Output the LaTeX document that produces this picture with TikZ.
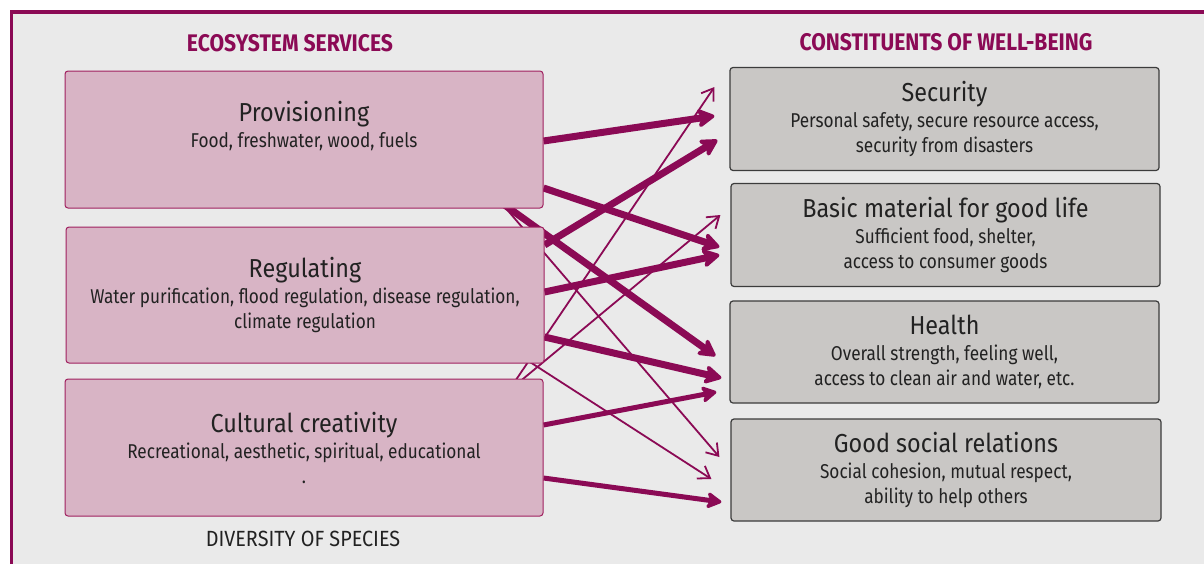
\documentclass[tikz,border=0pt]{standalone}
\usepackage{fontspec}
\setmainfont{Fira Sans}
\newfontfamily\headfont[FakeStretch=0.88]{Fira Sans}
\newfontfamily\titlefont[FakeStretch=0.9]{Fira Sans}
\newfontfamily\subfont[FakeStretch=0.86]{Fira Sans}
\usetikzlibrary{arrows.meta,positioning,calc}

\definecolor{plum}{HTML}{8B0A55}
\definecolor{plumfill}{HTML}{D8B4C5}
\definecolor{plumline}{HTML}{A0205F}
\definecolor{greyfill}{HTML}{C9C7C5}
\definecolor{greyline}{HTML}{3C3C3C}
\definecolor{paper}{HTML}{EAEAEA}
\definecolor{ink}{HTML}{222222}

\newcommand{\boxtitle}[1]{{\titlefont\fontsize{26}{30}\selectfont #1}}

\pgfdeclarelayer{bg}
\pgfdeclarelayer{edges}
\pgfsetlayers{bg,edges,main}

\tikzset{
  svcbox/.style={draw=plumline, line width=1pt, fill=plumfill, rounded corners=3pt,
    minimum width=478pt, minimum height=137pt, inner sep=0pt, align=center,
    text=ink, font=\subfont\fontsize{20}{25}\selectfont},
  wellbox/.style={draw=greyline, line width=1.2pt, fill=greyfill, rounded corners=3pt,
    minimum width=429pt, minimum height=103pt, inner sep=0pt, align=center,
    text=ink, font=\subfont\fontsize{20}{25}\selectfont},
  head/.style={text=plum, font=\headfont\bfseries\fontsize{24}{27}\selectfont},
  bigarrow/.style={plum, line width=7pt, -{Stealth[length=21pt,width=23pt,inset=6pt,round]}},
  midarrow/.style={plum, line width=5pt, -{Stealth[length=18pt,width=20pt,inset=5pt,round]}},
  thinarrow/.style={plum, line width=1.8pt, -{Straight Barb[length=11pt,width=15pt]}}
}

\begin{document}
\begin{tikzpicture}[x=1pt, y=-1pt]
  \useasboundingbox (0,0) rectangle (1204,563);
  \begin{pgfonlayer}{bg}
    \fill[white] (0,0) rectangle (1204,563);
    \draw[plum, line width=3.5pt, fill=paper] (11.5,12) rectangle (1215,575);
  \end{pgfonlayer}

  \node[head] (eshead) at (290,43) {ECOSYSTEM SERVICES};
  \node[head] (cwhead) at (946,42) {CONSTITUENTS OF WELL-BEING};

  % ecosystem services
  \node[svcbox] (prov) at (304,139.5) {\boxtitle{Provisioning}\\[1pt]
    Food, freshwater, wood, fuels\\[6pt] \mbox{}};
  \node[svcbox, minimum height=136pt] (reg) at (305,295) {\boxtitle{Regulating}\\[1pt]
    Water purification, flood regulation, disease regulation,\\ climate regulation};
  \node[svcbox] (cult) at (304,447.5) {\boxtitle{Cultural creativity}\\[1pt]
    Recreational, aesthetic, spiritual, educational\\ .};
  \node[text=ink, font=\titlefont\fontsize{22}{24}\selectfont] (species) at (303,539) {DIVERSITY OF SPECIES};

  % constituents of well-being
  \node[wellbox] (sec) at (944.5,119) {\boxtitle{Security}\\[1pt]
    Personal safety, secure resource access,\\ security from disasters};
  \node[wellbox] (basic) at (945.5,235) {\boxtitle{Basic material for good life}\\[1pt]
    Sufficient food, shelter,\\ access to consumer goods};
  \node[wellbox, minimum height=102pt] (health) at (944.5,352) {\boxtitle{Health}\\[1pt]
    Overall strength, feeling well,\\ access to clean air and water, etc.};
  \node[wellbox, minimum width=430pt, minimum height=102pt] (social) at (946,470) {\boxtitle{Good social relations}\\[1pt]
    Social cohesion, mutual respect,\\ ability to help others};

  \begin{pgfonlayer}{edges}
    \draw[bigarrow] ($(prov.east)+(0,1.5)$) -- ($(sec.west)+(-15,-3)$);
    \draw[bigarrow] ($(prov.east)+(0,48.5)$) -- ($(basic.west)+(-11,12)$);
    \draw[bigarrow] ($(prov.south east)+(-41,-5)$) -- ($(health.west)+(-14,4)$);
    \draw[bigarrow] ($(reg.east)+(0,-50)$) -- ($(sec.west)+(-12,21)$);
    \draw[bigarrow] ($(reg.east)+(0,-3)$) -- ($(basic.west)+(-11,20)$);
    \draw[bigarrow] ($(reg.east)+(0,42)$) -- ($(health.west)+(-8,26)$);
    \draw[midarrow] ($(cult.east)+(0,-22.5)$) -- ($(health.west)+(-13,40)$);
    \draw[midarrow] ($(cult.east)+(0,30.5)$) -- ($(social.west)+(-9,32)$);
    \draw[thinarrow] ($(cult.north east)+(-30,5)$) -- ($(sec.west)+(-15,-32)$);
    \draw[thinarrow] ($(cult.north east)+(-26,5)$) -- ($(basic.west)+(-10,-20)$);
    \draw[thinarrow] ($(prov.south east)+(-40,-3)$) -- ($(social.west)+(-11,-13)$);
    \draw[thinarrow] ($(reg.south east)+(-20,-5)$) -- ($(social.west)+(-19,9)$);
  \end{pgfonlayer}
\end{tikzpicture}
\end{document}
